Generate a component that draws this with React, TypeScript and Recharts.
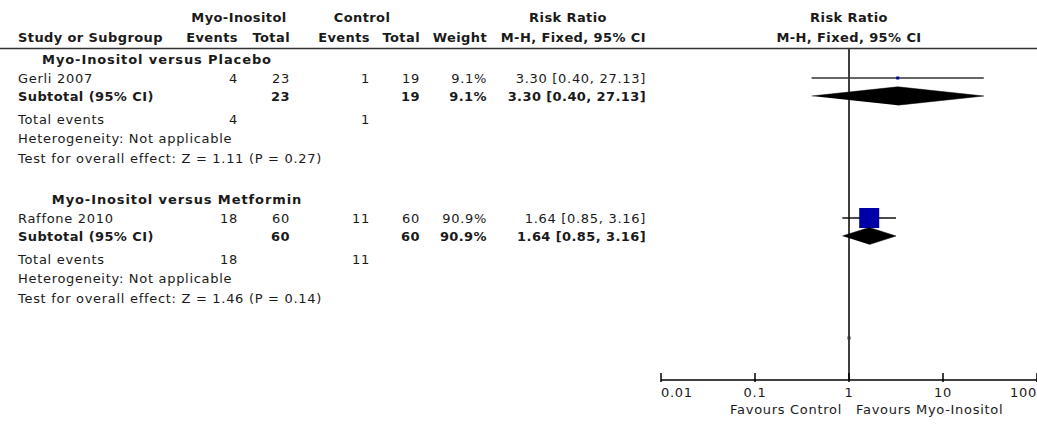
import React from "react";
import { ComposedChart, Scatter, XAxis, YAxis, ReferenceLine } from "recharts";

const groups = ["Myo-Inositol versus Placebo", "Myo-Inositol versus Metformin"];
const studies = ["Gerli 2007", "Raffone 2010"];
const expEvents = [4, 18];
const expTotal = [23, 60];
const ctlEvents = [1, 11];
const ctlTotal = [19, 60];
const weights = [9.1, 90.9];
const riskRatio = [3.3, 1.64];
const ciLow = [0.4, 0.85];
const ciHigh = [27.13, 3.16];
const heterogeneity = ["Not applicable", "Not applicable"];
const overallTests = ["Z = 1.11 (P = 0.27)", "Z = 1.46 (P = 0.14)"];
const tickValues = [0.01, 0.1, 1, 10, 100];
const tickLabels = ["0.01", "0.1", "1", "10", "100"];
const overallMark = [1];

const W = 1037;
const H = 424;
const FONT = "'DejaVu Sans', Verdana, sans-serif";
const TXT = "#1a1a1a";

// layout: each subgroup takes 7 rows, a row is 20px starting at y=58
const rowY = (r: number) => 58 + 20 * r;
const studyRow = (g: number) => g * 7 + 1;
const subRow = (g: number) => g * 7 + 1.9;
const titleX = [157, 177];
const col = { expEv: 238, expTot: 290, ctlEv: 370, ctlTot: 420, weight: 487, ci: 646 };

const fmtCI = (i: number) =>
  `${riskRatio[i].toFixed(2)} [${ciLow[i].toFixed(2)}, ${ciHigh[i].toFixed(2)}]`;

function T({ x, y, children, anchor = "start", bold = false, spacing }: any) {
  return (
    <text
      x={x}
      y={y}
      textAnchor={anchor}
      dominantBaseline="central"
      fontFamily={FONT}
      fontSize={13}
      fontWeight={bold ? "bold" : "normal"}
      letterSpacing={spacing ?? (bold ? 0.4 : 0.7)}
      fill={TXT}
    >
      {children}
    </text>
  );
}

function AxisTick(props: any) {
  const { x, y, index } = props;
  const anchor = index === 0 ? "start" : index === tickValues.length - 1 ? "end" : "middle";
  return (
    <g>
      <line x1={x} x2={x} y1={y - 7} y2={y + 2} stroke="#000" strokeWidth={1.5} />
      <text x={x} y={y + 12} textAnchor={anchor} dominantBaseline="central" fontFamily={FONT} fontSize={13} letterSpacing={0.7} fill={TXT}>
        {tickLabels[index]}
      </text>
    </g>
  );
}

const nothing = () => <g />;

const Square = (props: any) => {
  const { cx, cy, payload } = props;
  const s = Math.max(3, 0.22 * payload.w);
  return <rect x={cx - s / 2} y={cy - s / 2} width={s} height={s} fill="#0000a8" />;
};

const Dot = (props: any) => (
  <rect x={props.cx - 1.5} y={props.cy - 1.5} width={3} height={3} fill="#333" />
);

export default function App() {
  const squares = riskRatio.map((v, i) => ({ x: v, y: studyRow(i), w: weights[i] }));
  const ciLines = riskRatio.map((_, i) => [
    { x: ciLow[i], y: studyRow(i) },
    { x: ciHigh[i], y: studyRow(i) },
  ]);
  const diamonds = riskRatio.map((v, i) => {
    const r = subRow(i);
    const h = i === 0 ? 0.46 : 0.43;
    return [
      { x: ciLow[i], y: r },
      { x: v, y: r - h },
      { x: ciHigh[i], y: r },
      { x: v, y: r + h },
    ];
  });
  const overall = overallMark.map((v) => ({ x: v, y: 14 }));

  return (
    <div style={{ position: "absolute", left: 0, top: 0, width: W, height: H, background: "#fff" }}>
      <div style={{ position: "absolute", left: 0, top: 0 }}>
        <ComposedChart width={W} height={H} margin={{ top: 48, right: 0, bottom: 0, left: 661 }}>
          <XAxis
            dataKey="x"
            type="number"
            scale="log"
            domain={[0.01, 100]}
            ticks={tickValues}
            allowDataOverflow
            interval={0}
            height={44}
            tickSize={0}
            tickMargin={0}
            tickLine={false}
            axisLine={{ stroke: "#000", strokeWidth: 1.5 }}
            tick={<AxisTick />}
          />
          <YAxis dataKey="y" type="number" domain={[-0.5, 16.1]} reversed allowDataOverflow hide />
          <ReferenceLine x={1} stroke="#000" strokeWidth={1.5} />
          {ciLines.map((d, i) => (
            <Scatter
              key={`ci${i}`}
              data={d}
              line={{ stroke: i === 0 ? "#333" : "#111", strokeWidth: 1.5 }}
              lineType="joint"
              shape={nothing}
              isAnimationActive={false}
            />
          ))}
          <Scatter data={squares} shape={<Square />} isAnimationActive={false} />
          {diamonds.map((d, i) => (
            <Scatter
              key={`dm${i}`}
              data={d}
              line={{ stroke: "#000", strokeWidth: 0.5, fill: "#000" }}
              lineType="joint"
              shape={nothing}
              isAnimationActive={false}
            />
          ))}
          <Scatter data={overall} shape={<Dot />} isAnimationActive={false} />
        </ComposedChart>
      </div>
      <svg width={W} height={H} style={{ position: "absolute", left: 0, top: 0, pointerEvents: "none" }}>
        <T x={239} y={17} anchor="middle" bold>Myo-Inositol</T>
        <T x={362} y={17} anchor="middle" bold>Control</T>
        <T x={568} y={17} anchor="middle" bold>Risk Ratio</T>
        <T x={849} y={17} anchor="middle" bold>Risk Ratio</T>
        <T x={18} y={37} bold>Study or Subgroup</T>
        <T x={col.expEv} y={37} anchor="end" bold>Events</T>
        <T x={col.expTot} y={37} anchor="end" bold>Total</T>
        <T x={col.ctlEv} y={37} anchor="end" bold>Events</T>
        <T x={col.ctlTot} y={37} anchor="end" bold>Total</T>
        <T x={col.weight} y={37} anchor="end" bold>Weight</T>
        <T x={col.ci} y={37} anchor="end" bold>M-H, Fixed, 95% CI</T>
        <T x={849} y={37} anchor="middle" bold>M-H, Fixed, 95% CI</T>
        <line x1={0} x2={W} y1={48.5} y2={48.5} stroke="#333" strokeWidth={1.5} />
        {groups.map((g, i) => {
          const base = i * 7;
          return (
            <g key={g}>
              <T x={titleX[i]} y={rowY(base) + 1} anchor="middle" bold spacing={0.9}>{g}</T>
              <T x={18} y={rowY(studyRow(i))}>{studies[i]}</T>
              <T x={col.expEv} y={rowY(studyRow(i))} anchor="end">{expEvents[i]}</T>
              <T x={col.expTot} y={rowY(studyRow(i))} anchor="end">{expTotal[i]}</T>
              <T x={col.ctlEv} y={rowY(studyRow(i))} anchor="end">{ctlEvents[i]}</T>
              <T x={col.ctlTot} y={rowY(studyRow(i))} anchor="end">{ctlTotal[i]}</T>
              <T x={col.weight} y={rowY(studyRow(i))} anchor="end">{weights[i].toFixed(1)}%</T>
              <T x={col.ci} y={rowY(studyRow(i))} anchor="end">{fmtCI(i)}</T>
              <T x={18} y={rowY(subRow(i))} bold>Subtotal (95% CI)</T>
              <T x={col.expTot} y={rowY(subRow(i))} anchor="end" bold>{expTotal[i]}</T>
              <T x={col.ctlTot} y={rowY(subRow(i))} anchor="end" bold>{ctlTotal[i]}</T>
              <T x={col.weight} y={rowY(subRow(i))} anchor="end" bold>{weights[i].toFixed(1)}%</T>
              <T x={col.ci} y={rowY(subRow(i))} anchor="end" bold>{fmtCI(i)}</T>
              <T x={18} y={rowY(base + 3) + 1}>Total events</T>
              <T x={col.expEv} y={rowY(base + 3) + 1} anchor="end">{expEvents[i]}</T>
              <T x={col.ctlEv} y={rowY(base + 3) + 1} anchor="end">{ctlEvents[i]}</T>
              <T x={18} y={rowY(base + 4)}>Heterogeneity: {heterogeneity[i]}</T>
              <T x={18} y={rowY(base + 5)}>Test for overall effect: {overallTests[i]}</T>
            </g>
          );
        })}
        <T x={842} y={409} anchor="end">Favours Control</T>
        <T x={856} y={409}>Favours Myo-Inositol</T>
      </svg>
    </div>
  );
}
